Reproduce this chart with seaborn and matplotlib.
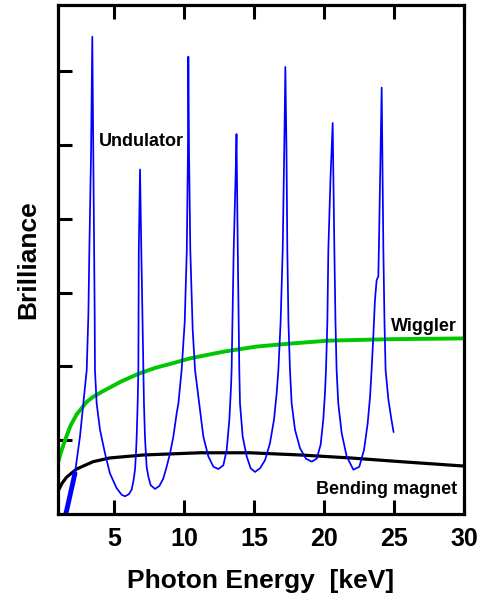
import matplotlib
matplotlib.use("Agg")
import matplotlib.pyplot as plt
import seaborn as sns
import pandas as pd

# ---- data ----
undulator_x = [1.55, 1.62, 2.21, 2.57, 2.81, 3.05, 3.17, 3.24, 3.36, 3.45,
               3.52, 3.59, 3.62, 3.64,
               3.76, 4.00, 4.36, 4.71, 5.19, 5.55, 5.79, 6.07, 6.26, 6.40, 6.50, 6.57, 6.62, 6.69, 6.74,
               6.77, 6.86, 6.95, 7.10,
               7.14, 7.21, 7.33, 7.45, 7.62, 7.93, 8.24, 8.52, 8.76, 9.00, 9.24, 9.48, 9.60, 9.83,
               10.05, 10.20, 10.28, 10.31, 10.36, 10.45, 10.62, 10.79,
               11.14, 11.38, 11.74, 12.10, 12.45, 12.81, 13.05, 13.24, 13.36, 13.40,
               13.55, 13.68, 13.75, 13.84, 13.95,
               14.00, 14.19, 14.48, 14.76, 15.07, 15.43, 15.79, 16.14, 16.43, 16.62, 16.74,
               16.90, 17.05, 17.16, 17.24, 17.32, 17.38, 17.46, 17.57,
               17.69, 17.93, 18.29, 18.71, 19.12, 19.48, 19.76, 19.95, 20.07, 20.14,
               20.24, 20.31, 20.46, 20.62, 20.74, 20.82, 20.90,
               21.02, 21.26, 21.62, 22.10, 22.52, 22.86, 23.12, 23.29, 23.40,
               23.52, 23.64, 23.76, 23.88, 23.92, 24.04, 24.12,
               24.24, 24.32, 24.40, 24.60, 24.80, 24.97]
undulator_y = [0.00, 0.05, 0.55, 1.05, 1.50, 1.95, 2.70, 3.58, 4.90, 6.47,
               4.94, 3.58, 2.70, 1.95,
               1.50, 1.14, 0.82, 0.55, 0.35, 0.26, 0.24, 0.27, 0.33, 0.46, 0.60, 0.82, 1.05, 1.50, 1.95,
               3.58, 4.67, 3.58, 1.95,
               1.50, 1.05, 0.64, 0.51, 0.39, 0.34, 0.38, 0.48, 0.64, 0.82, 1.05, 1.37, 1.50, 1.95,
               2.60, 3.58, 4.90, 6.20, 4.90, 3.58, 2.50, 1.95,
               1.41, 1.05, 0.78, 0.64, 0.61, 0.66, 0.87, 1.28, 1.73, 1.95,
               3.58, 4.53, 5.15, 3.58, 1.95,
               1.50, 1.05, 0.78, 0.62, 0.57, 0.62, 0.73, 0.96, 1.28, 1.64, 1.95,
               2.60, 3.58, 4.94, 6.06, 4.94, 3.58, 2.60, 1.95,
               1.50, 1.14, 0.89, 0.75, 0.71, 0.75, 0.94, 1.28, 1.64, 1.95,
               2.60, 3.58, 4.53, 5.30, 3.58, 2.60, 1.95,
               1.50, 1.10, 0.78, 0.60, 0.64, 0.87, 1.23, 1.59, 1.95,
               2.40, 2.90, 3.17, 3.22, 3.60, 4.94, 5.78,
               3.58, 2.60, 1.95, 1.55, 1.30, 1.11]

wiggler_x = [1.0, 1.2, 1.5, 1.9, 2.33, 3.05, 3.52, 4.36, 5.55, 6.74, 7.93, 9.12, 10.43,
             12.81, 15.19, 17.57, 20.31, 24.83, 30.0]
wiggler_y = [0.70, 0.83, 1.00, 1.20, 1.35, 1.52, 1.59, 1.68, 1.80, 1.90, 1.98, 2.04, 2.11,
             2.20, 2.27, 2.31, 2.35, 2.37, 2.38]

bending_x = [1.0, 1.3, 1.62, 2.33, 3.52, 4.71, 7.1, 11.14, 14.7, 18.3, 21.86, 25.43, 30.0]
bending_y = [0.31, 0.42, 0.50, 0.61, 0.71, 0.76, 0.80, 0.83, 0.83, 0.80, 0.76, 0.71, 0.65]

x_ticks = [5, 10, 15, 20, 25, 30]
y_ticks = [1, 2, 3, 4, 5, 6]

labels = ["Undulator", "Wiggler", "Bending magnet"]
label_x = [3.95, 29.5, 29.5]
label_y = [4.99, 2.48, 0.27]

# ---- style ----
sns.set_style("ticks")
plt.rcParams['font.family'] = ['Liberation Sans', 'DejaVu Sans']
plt.rcParams['font.weight'] = 'bold'
plt.rcParams['text.color'] = 'black'
plt.rcParams['axes.labelcolor'] = 'black'
plt.rcParams['xtick.color'] = 'black'
plt.rcParams['ytick.color'] = 'black'
plt.rcParams['lines.solid_joinstyle'] = 'round'

fig = plt.figure(figsize=(4.8, 6.09), dpi=100)
ax = fig.add_axes([58/480, 1 - 514/609, (464-58)/480, (514-5)/609])

und = pd.DataFrame({"x": undulator_x, "y": undulator_y})
wig = pd.DataFrame({"x": wiggler_x, "y": wiggler_y})
ben = pd.DataFrame({"x": bending_x, "y": bending_y})

sns.lineplot(data=ben, x="x", y="y", ax=ax, color="black", lw=2.3, sort=False, estimator=None)
sns.lineplot(data=wig, x="x", y="y", ax=ax, color="#00C800", lw=2.8, sort=False, estimator=None)
sns.lineplot(data=und, x="x", y="y", ax=ax, color="#0000FF", lw=1.25, sort=False, estimator=None)
sns.lineplot(data=und.iloc[:3], x="x", y="y", ax=ax, color="#0000FF", lw=3.5, sort=False, estimator=None)

ax.set_xlim(1, 30)
ax.set_ylim(0, 6.9)
ax.set_xticks(x_ticks)
ax.set_xticklabels([str(t) for t in x_ticks])
ax.set_yticks(y_ticks)
ax.set_yticklabels([])

ax.tick_params(axis='x', direction='in', length=10, width=2.2, top=True, bottom=True,
               labelsize=18, pad=9)
ax.tick_params(axis='y', direction='in', length=10, width=2.2, left=True, right=False)
for lab in ax.get_xticklabels():
    lab.set_fontweight('bold')

for s in ax.spines.values():
    s.set_visible(True)
    s.set_linewidth(2.3)
    s.set_color('black')

ax.set_xlabel("Photon Energy  [keV]", fontsize=19, fontweight='bold', labelpad=13)
ax.set_ylabel("Brilliance", fontsize=19, fontweight='bold', labelpad=9)

for t, xx, yy, ha in zip(labels, label_x, label_y, ['left', 'right', 'right']):
    ax.text(xx, yy, t, fontsize=13, fontweight='bold', ha=ha, va='baseline')

fig.savefig("out.png", dpi=100)
